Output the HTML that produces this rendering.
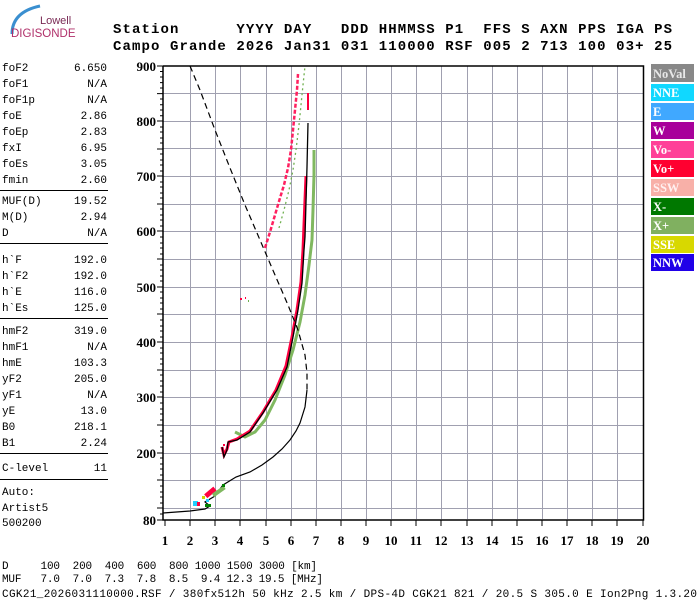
<!DOCTYPE html>
<html><head><meta charset="utf-8"><style>html,body{margin:0;padding:0;background:#fff}svg{display:block}.pre{white-space:pre}</style></head>
<body>
<svg width="700" height="600" xmlns="http://www.w3.org/2000/svg" font-family="Liberation Mono, monospace">
<rect width="700" height="600" fill="#fff"/>
<!-- logo -->
<path d="M12 34 Q12 12 40 6" stroke="#3a8fd0" stroke-width="3" fill="none"/>
<text x="40" y="24" font-family="Liberation Sans, sans-serif" font-size="11" fill="#7a2a55">Lowell</text>
<text x="11" y="37" font-family="Liberation Sans, sans-serif" font-size="11.5" fill="#b0306a">DIGISONDE</text>
<!-- header -->
<g font-weight="bold" font-size="14" fill="#000">
<text class="pre" x="113" y="33" textLength="559" lengthAdjust="spacing">Station      YYYY DAY   DDD HHMMSS P1  FFS S AXN PPS IGA PS</text>
<text class="pre" x="113" y="50" textLength="559" lengthAdjust="spacing">Campo Grande 2026 Jan31 031 110000 RSF 005 2 713 100 03+ 25</text>
</g>
<!-- left panel -->
<g font-size="11" fill="#000">
<g>
<text x="2" y="71">foF2</text><text x="2" y="87">foF1</text><text x="2" y="103">foF1p</text><text x="2" y="119">foE</text><text x="2" y="135">foEp</text><text x="2" y="151">fxI</text><text x="2" y="167">foEs</text><text x="2" y="183">fmin</text>
<text x="2" y="204">MUF(D)</text><text x="2" y="220">M(D)</text><text x="2" y="236">D</text>
<text x="2" y="263">h`F</text><text x="2" y="279">h`F2</text><text x="2" y="295">h`E</text><text x="2" y="311">h`Es</text>
<text x="2" y="334">hmF2</text><text x="2" y="350">hmF1</text><text x="2" y="366">hmE</text><text x="2" y="382">yF2</text><text x="2" y="398">yF1</text><text x="2" y="414">yE</text><text x="2" y="430">B0</text><text x="2" y="446">B1</text>
<text x="2" y="471">C-level</text>
<text x="2" y="495">Auto:</text><text x="2" y="511">Artist5</text><text x="2" y="526">500200</text>
</g>
<g text-anchor="end">
<text x="107" y="71">6.650</text><text x="107" y="87">N/A</text><text x="107" y="103">N/A</text><text x="107" y="119">2.86</text><text x="107" y="135">2.83</text><text x="107" y="151">6.95</text><text x="107" y="167">3.05</text><text x="107" y="183">2.60</text>
<text x="107" y="204">19.52</text><text x="107" y="220">2.94</text><text x="107" y="236">N/A</text>
<text x="107" y="263">192.0</text><text x="107" y="279">192.0</text><text x="107" y="295">116.0</text><text x="107" y="311">125.0</text>
<text x="107" y="334">319.0</text><text x="107" y="350">N/A</text><text x="107" y="366">103.3</text><text x="107" y="382">205.0</text><text x="107" y="398">N/A</text><text x="107" y="414">13.0</text><text x="107" y="430">218.1</text><text x="107" y="446">2.24</text>
<text x="107" y="471">11</text>
</g>
<g stroke="#000" stroke-width="1">
<line x1="0" y1="190.5" x2="108" y2="190.5"/><line x1="0" y1="243.5" x2="108" y2="243.5"/><line x1="0" y1="318.5" x2="108" y2="318.5"/><line x1="0" y1="453.5" x2="108" y2="453.5"/><line x1="0" y1="479.5" x2="108" y2="479.5"/>
</g>
</g>
<!-- grid -->
<g stroke="#a0a0b0" stroke-width="1">
<line x1="190.5" y1="66" x2="190.5" y2="519"/><line x1="215.5" y1="66" x2="215.5" y2="519"/><line x1="240.5" y1="66" x2="240.5" y2="519"/><line x1="266.5" y1="66" x2="266.5" y2="519"/><line x1="291.5" y1="66" x2="291.5" y2="519"/><line x1="316.5" y1="66" x2="316.5" y2="519"/><line x1="341.5" y1="66" x2="341.5" y2="519"/><line x1="366.5" y1="66" x2="366.5" y2="519"/><line x1="391.5" y1="66" x2="391.5" y2="519"/><line x1="416.5" y1="66" x2="416.5" y2="519"/><line x1="441.5" y1="66" x2="441.5" y2="519"/><line x1="467.5" y1="66" x2="467.5" y2="519"/><line x1="492.5" y1="66" x2="492.5" y2="519"/><line x1="517.5" y1="66" x2="517.5" y2="519"/><line x1="542.5" y1="66" x2="542.5" y2="519"/><line x1="567.5" y1="66" x2="567.5" y2="519"/><line x1="592.5" y1="66" x2="592.5" y2="519"/><line x1="617.5" y1="66" x2="617.5" y2="519"/>
<line x1="163" y1="93.5" x2="643" y2="93.5"/><line x1="163" y1="121.5" x2="643" y2="121.5"/><line x1="163" y1="148.5" x2="643" y2="148.5"/><line x1="163" y1="176.5" x2="643" y2="176.5"/><line x1="163" y1="204.5" x2="643" y2="204.5"/><line x1="163" y1="231.5" x2="643" y2="231.5"/><line x1="163" y1="259.5" x2="643" y2="259.5"/><line x1="163" y1="287.5" x2="643" y2="287.5"/><line x1="163" y1="314.5" x2="643" y2="314.5"/><line x1="163" y1="342.5" x2="643" y2="342.5"/><line x1="163" y1="370.5" x2="643" y2="370.5"/><line x1="163" y1="397.5" x2="643" y2="397.5"/><line x1="163" y1="425.5" x2="643" y2="425.5"/><line x1="163" y1="453.5" x2="643" y2="453.5"/><line x1="163" y1="480.5" x2="643" y2="480.5"/><line x1="163" y1="508.5" x2="643" y2="508.5"/>
</g>
<!-- frame -->
<g stroke="#000" stroke-width="1.5" fill="none">
<polyline points="163,66 643.5,66 643.5,520 163,520 163,66"/>
</g>
<!-- ticks -->
<g stroke="#000" stroke-width="1">
<path d="M157 66h6M160 71.5h3M160 77h3M160 82.6h3M160 88h3M157 93.6h6M160 99h3M160 104.7h3M160 110h3M160 115.8h3M157 121h6M160 127h3M160 132h3M160 138h3M160 143h3M157 149h6M160 154h3M160 160h3M160 165h3M160 171h3M157 176h6M160 182h3M160 187h3M160 193h3M160 198h3M157 204h6M160 209h3M160 215h3M160 220h3M160 226h3M157 231h6M160 237h3M160 243h3M160 248h3M160 254h3M157 259h6M160 265h3M160 270h3M160 276h3M160 281h3M157 287h6M160 292h3M160 298h3M160 303h3M160 309h3M157 314h6M160 320h3M160 326h3M160 331h3M160 337h3M157 342h6M160 348h3M160 353h3M160 359h3M160 364h3M157 370h6M160 375h3M160 381h3M160 386h3M160 392h3M157 397h6M160 403h3M160 409h3M160 414h3M160 420h3M157 425h6M160 431h3M160 436h3M160 442h3M160 447h3M157 453h6M160 458h3M160 464h3M160 469h3M160 475h3M157 480h6M160 486h3M160 492h3M160 497h3M160 503h3M157 508h6M160 514h3M157 520h6"/>
<path d="M165 520v6M190 520v6M215 520v6M240 520v6M266 520v6M291 520v6M316 520v6M341 520v6M366 520v6M391 520v6M416 520v6M441 520v6M467 520v6M492 520v6M517 520v6M542 520v6M567 520v6M592 520v6M617 520v6M643 520v6"/>
</g>
<g font-family="Liberation Serif, serif" font-weight="bold" font-size="13" text-anchor="end">
<text x="156" y="71">900</text><text x="156" y="126">800</text><text x="156" y="181">700</text><text x="156" y="236">600</text><text x="156" y="292">500</text><text x="156" y="347">400</text><text x="156" y="402">300</text><text x="156" y="458">200</text><text x="156" y="525">80</text>
</g>
<g font-family="Liberation Serif, serif" font-weight="bold" font-size="13" text-anchor="middle">
<text x="165" y="545">1</text><text x="190" y="545">2</text><text x="215" y="545">3</text><text x="240" y="545">4</text><text x="266" y="545">5</text><text x="291" y="545">6</text><text x="316" y="545">7</text><text x="341" y="545">8</text><text x="366" y="545">9</text><text x="391" y="545">10</text><text x="416" y="545">11</text><text x="441" y="545">12</text><text x="467" y="545">13</text><text x="492" y="545">14</text><text x="517" y="545">15</text><text x="542" y="545">16</text><text x="567" y="545">17</text><text x="592" y="545">18</text><text x="617" y="545">19</text><text x="643" y="545">20</text>
</g>
<!-- traces -->
<g fill="none">
<polyline points="265,248 270,232 275,215 280,198 284,185 288,168 291,150 293,130 295,110 297,90 298,74" stroke="#ff2060" stroke-width="2.5" stroke-dasharray="4 2"/>
<polyline points="279,228 284,210 289,190 293,170 296,150 299,125 301,105 303,85 305,66" stroke="#70b050" stroke-width="1.3" stroke-dasharray="2 3"/>
<polyline points="235,432 245,437 255,432 265,420 275,400 285,375 293,350 300,322 305,295 309,265 312,240 313,210 314,175 314,150" stroke="#80b860" stroke-width="3"/>
<polyline points="222,447 224,455 227,449 229,442 237,439 250,431 263,412 276,390 286,366 292,337 297,310 301,282 303,250 304,225 305,200 306,176" stroke="#ff0040" stroke-width="3"/>
<polyline points="222,447 224,457 227,450 228,442 237,440 250,432 263,413 277,390 287,367 293,337 298,310 302,283 304,250 305,237 307,167 308,123" stroke="#000" stroke-width="1.3"/>
<line x1="308" y1="93" x2="308" y2="110" stroke="#ff0040" stroke-width="2"/>
<polyline points="163,513 190,511 205,509 210,506 205,502 215,496 223,485 236,477 250,472 262,465 273,457 282,449 290,440 296,431 300,423 305,407 307,390" stroke="#000" stroke-width="1.2"/>
<polyline points="190,66 200,90 215,130 230,168 245,205 260,240 275,275 288,305 298,330 305,355 307,373 307,390" stroke="#000" stroke-width="1.2" stroke-dasharray="6 4"/>
</g>
<g>
<rect x="193" y="501" width="5" height="5" fill="#20d0ff"/><rect x="197" y="502" width="3" height="4" fill="#ff0040"/>
<rect x="202" y="496" width="3" height="3" fill="#d0d000"/><rect x="204" y="490" width="12" height="5" fill="#ff0040" transform="rotate(-40 210 492)"/>
<rect x="206" y="499" width="3" height="3" fill="#20d0ff"/><rect x="205" y="504" width="6" height="3" fill="#008000"/>
<rect x="212" y="490" width="14" height="4" fill="#80b860" transform="rotate(-35 218 492)"/><rect x="222" y="484" width="3" height="3" fill="#008000"/>
<rect x="240" y="298" width="2" height="2" fill="#ff0040"/><rect x="245" y="297" width="1" height="2" fill="#ff0040"/>
<rect x="248" y="300" width="1" height="2" fill="#70b050"/><rect x="223" y="444" width="2" height="2" fill="#ff0040"/>
</g>
<!-- legend -->
<g font-family="Liberation Serif, serif" font-weight="bold" font-size="12.5">
<rect x="651" y="64" width="43" height="18" fill="#888"/><text x="653" y="78" fill="#e8e8e8">NoVal</text>
<rect x="651" y="84" width="43" height="17" fill="#10d8ff"/><text x="653" y="97" fill="#fff">NNE</text>
<rect x="651" y="103" width="43" height="17" fill="#40a8ff"/><text x="653" y="116" fill="#fff">E</text>
<rect x="651" y="122" width="43" height="17" fill="#a8009a"/><text x="653" y="135" fill="#fff">W</text>
<rect x="651" y="141" width="43" height="17" fill="#ff4098"/><text x="653" y="154" fill="#fff">Vo-</text>
<rect x="651" y="160" width="43" height="17" fill="#ff0030"/><text x="653" y="173" fill="#fff">Vo+</text>
<rect x="651" y="179" width="43" height="17" fill="#f8b0a8"/><text x="653" y="192" fill="#fff0f0">SSW</text>
<rect x="651" y="198" width="43" height="17" fill="#007800"/><text x="653" y="211" fill="#fff">X-</text>
<rect x="651" y="217" width="43" height="17" fill="#80b060"/><text x="653" y="230" fill="#fff">X+</text>
<rect x="651" y="236" width="43" height="17" fill="#d8d800"/><text x="653" y="249" fill="#fff">SSE</text>
<rect x="651" y="254" width="43" height="17" fill="#2000e8"/><text x="653" y="267" fill="#fff">NNW</text>
</g>
<!-- bottom text -->
<g font-size="11" fill="#000">
<text class="pre" x="2" y="569" textLength="315" lengthAdjust="spacing">D     100  200  400  600  800 1000 1500 3000 [km]</text>
<text class="pre" x="2" y="582" textLength="321" lengthAdjust="spacing">MUF   7.0  7.0  7.3  7.8  8.5  9.4 12.3 19.5 [MHz]</text>
<text class="pre" x="2" y="597" textLength="695" lengthAdjust="spacing">CGK21_2026031110000.RSF / 380fx512h 50 kHz 2.5 km / DPS-4D CGK21 821 / 20.5 S 305.0 E Ion2Png 1.3.20</text>
</g>
</svg>
</body></html>
